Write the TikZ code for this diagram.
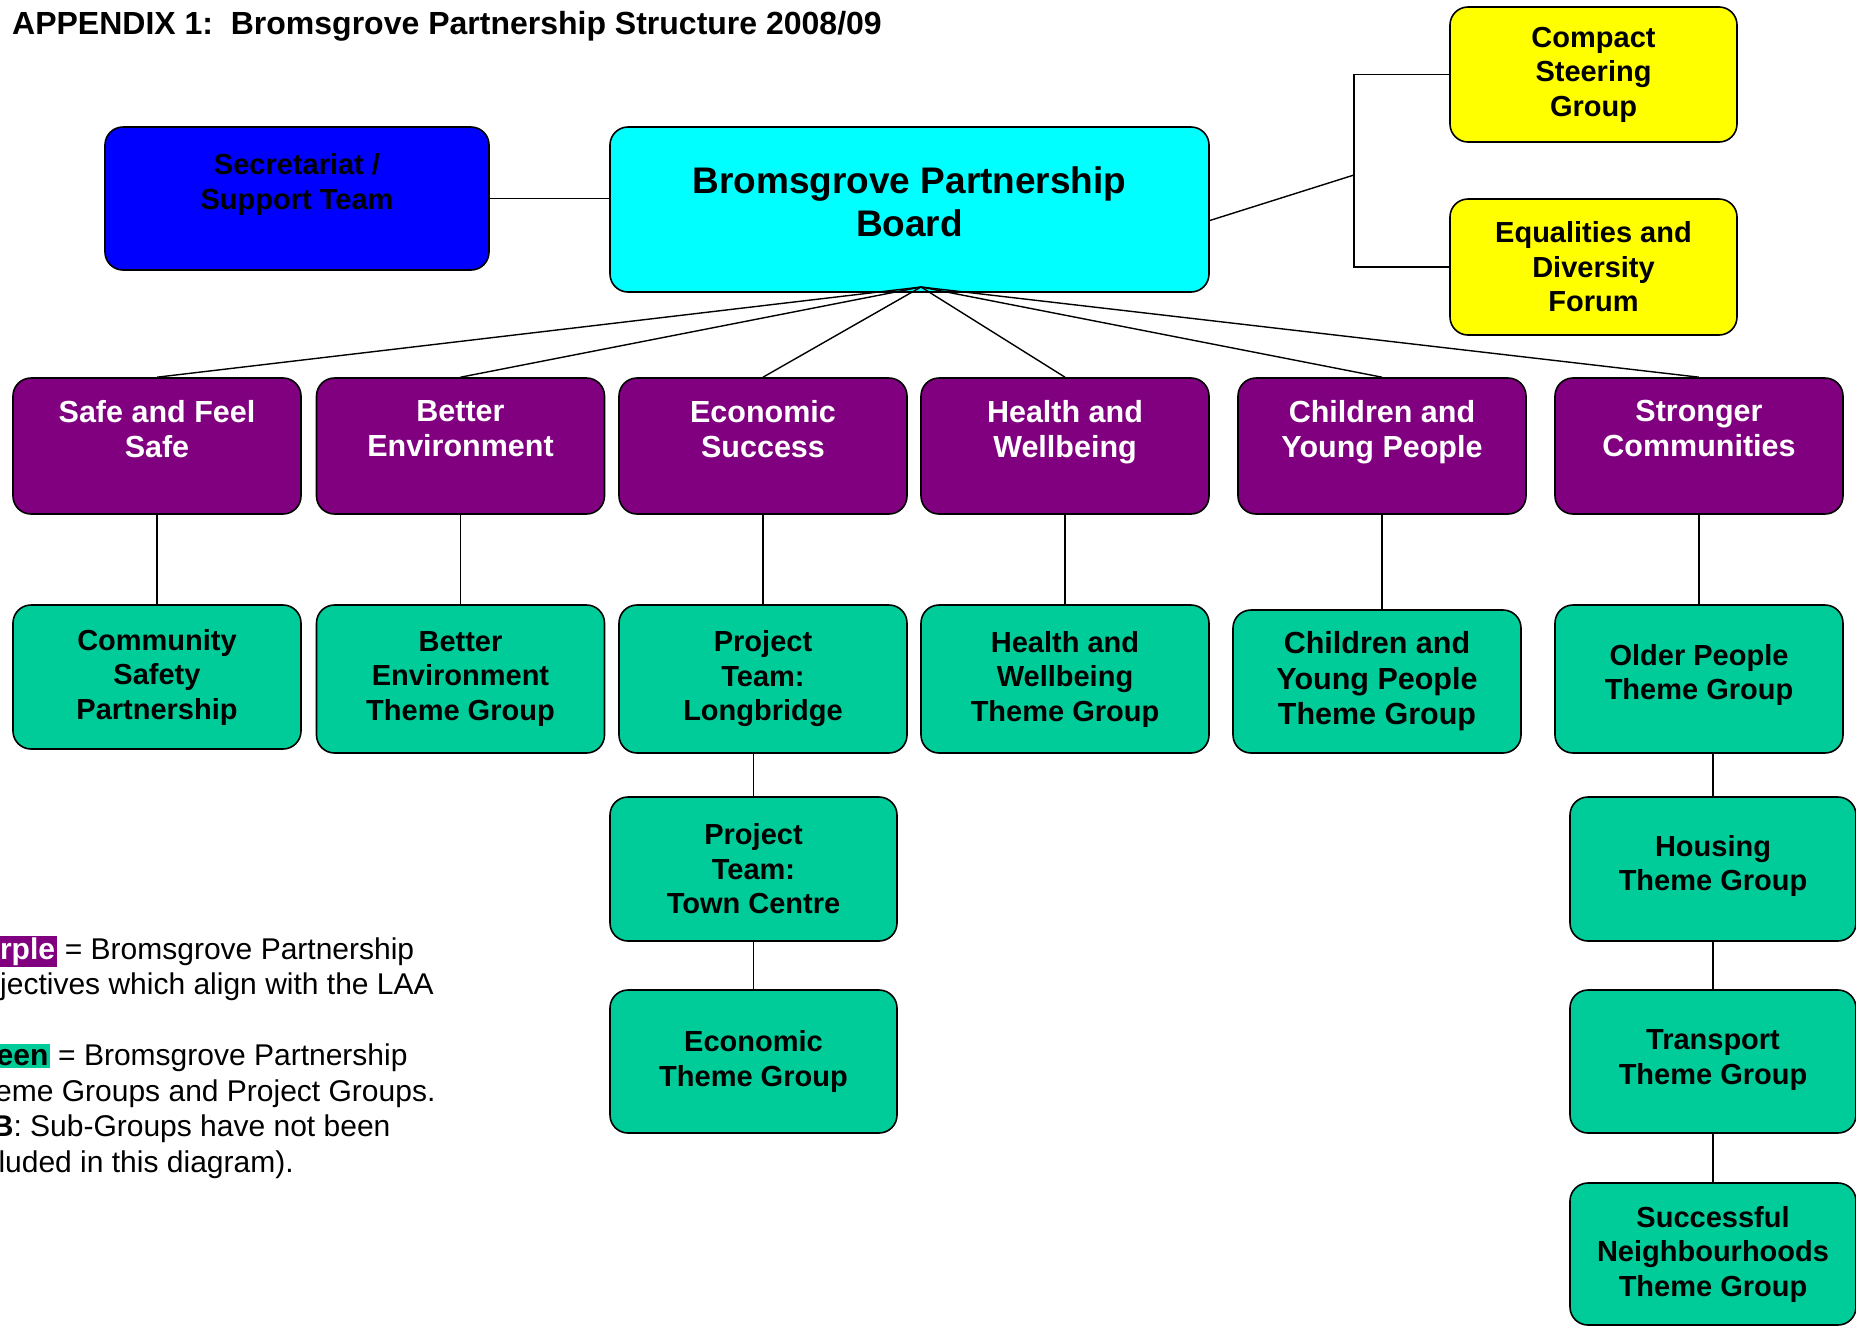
\documentclass[tikz,border=0pt]{standalone}
\usepackage{fontspec}
\setmainfont{Liberation Sans}
\usetikzlibrary{positioning}

\definecolor{objpurple}{RGB}{128,0,128}
\definecolor{themegreen}{RGB}{0,204,153}
\definecolor{boardcyan}{RGB}{0,255,255}
\definecolor{secblue}{RGB}{0,0,255}
\definecolor{forumyellow}{RGB}{255,255,0}

\tikzset{
	orgbox/.style={draw, line width=1.6pt, rounded corners=18pt, align=center, inner sep=0pt,
		font=\bfseries\fontsize{29}{34.5}\selectfont, minimum width=288pt, minimum height=136pt},
	objective/.style={orgbox, fill=objpurple, text=white, font=\bfseries\fontsize{30.5}{35}\selectfont},
	themegroup/.style={orgbox, fill=themegreen},
	forum/.style={orgbox, fill=forumyellow, minimum width=287pt},
	link/.style={line width=1.4pt}
}

\begin{document}
\begin{tikzpicture}[x=1pt, y=-1pt]
\useasboundingbox (0,0) rectangle (1856,1326);

%title
	\node[anchor=west, inner sep=0pt, font=\bfseries\fontsize{32}{38}\selectfont] (title) at (12,26) {APPENDIX 1:\ \ Bromsgrove Partnership Structure 2008/09};

	%board and support
	\node[orgbox, fill=secblue, minimum width=384pt, minimum height=143pt] (sec) at (297,198.5) {Secretariat /\\Support Team\\\mbox{}};
	\node[orgbox, fill=boardcyan, minimum width=599pt, minimum height=165pt, font=\bfseries\fontsize{37}{43}\selectfont] (board) at (909.5,209.5) {Bromsgrove Partnership\\Board\\[-28pt]\mbox{}};
	\node[forum, minimum height=135pt] (compact) at (1593.5,74.5) {Compact\\Steering\\Group};
	\node[forum] (equal) at (1593.5,267) {Equalities and\\Diversity\\Forum};

	%objectives
	\node[objective] (safe) at (157,446) {Safe and Feel\\Safe\\\mbox{}};
	\node[objective] (env) at (460.5,446) {Better\\Environment\\\mbox{}};
	\node[objective] (eco) at (763,446) {Economic\\Success\\\mbox{}};
	\node[objective] (health) at (1065,446) {Health and\\Wellbeing\\\mbox{}};
	\node[objective] (cyp) at (1382,446) {Children and\\Young People\\\mbox{}};
	\node[objective] (comm) at (1699,446) {Stronger\\Communities\\\mbox{}};

	%theme groups
	\node[themegroup, minimum height=144pt] (csp) at (157,677) {Community\\Safety\\Partnership};
	\node[themegroup, minimum height=148pt] (envtg) at (460.5,679) {Better\\Environment\\Theme Group};
	\node[themegroup, minimum height=148pt] (longb) at (763,679) {Project\\Team:\\Longbridge};
	\node[themegroup, minimum height=148pt] (healthtg) at (1065,679) {Health and\\Wellbeing\\Theme Group};
	\node[themegroup, minimum height=143pt, font=\bfseries\fontsize{30.5}{35.5}\selectfont] (cyptg) at (1377,681.5) {Children and\\Young People\\Theme Group};
	\node[themegroup, minimum height=148pt] (older) at (1699,679) {Older People\\Theme Group\\[-20pt]\mbox{}};
	\node[themegroup, minimum width=287pt, minimum height=144pt] (town) at (753.5,869) {Project\\Team:\\Town Centre};
	\node[themegroup, minimum width=287pt, minimum height=143pt] (ecotg) at (753.5,1061.5) {Economic\\Theme Group};
	\node[themegroup, minimum width=286pt, minimum height=144pt] (housing) at (1713,869) {Housing\\Theme Group\\[-22pt]\mbox{}};
	\node[themegroup, minimum width=286pt, minimum height=143pt] (transport) at (1713,1061.5) {Transport\\Theme Group\\[-26pt]\mbox{}};
	\node[themegroup, minimum width=286pt, minimum height=142pt] (success) at (1713,1254) {Successful\\Neighbourhoods\\Theme Group};

	%connectors
	\coordinate (hub) at (921,287);
	\coordinate (junc) at (1354,175);
	\draw[link] (sec.east) -- (sec.east -| board.west);
	\draw[link] ([yshift=-11pt]board.east) -- (junc);
	\draw[link] (compact.west) -| (junc) |- (equal.west);
	\foreach \obj in {safe,env,eco,health,cyp,comm}
		\draw[link] (hub) -- (\obj.north);
	\draw[link] (safe.south) -- (safe.south |- csp.north);
	\draw[link] (env.south) -- (env.south |- envtg.north);
	\draw[link] (eco.south) -- (eco.south |- longb.north);
	\draw[link] (health.south) -- (health.south |- healthtg.north);
	\draw[link] (cyp.south) -- (cyp.south |- cyptg.north);
	\draw[link] (comm.south) -- (comm.south |- older.north);
	\draw[link] (town.north |- longb.south) -- (town.north);
	\draw[link] (town.south) -- (ecotg.north);
	\draw[link] (housing.north |- older.south) -- (housing.north);
	\draw[link] (housing.south) -- (transport.north);
	\draw[link] (transport.south) -- (success.north);

	%key
	\setlength{\fboxsep}{1.5pt}
	\node[anchor=north west, inner sep=0pt, align=left, font=\fontsize{30}{35.5}\selectfont] (key) at (-40,936) {\colorbox{objpurple}{\textcolor{white}{\textbf{Purple}}} = Bromsgrove Partnership\\Objectives which align with the LAA\\[35.5pt]\colorbox{themegreen}{\textbf{Green}} = Bromsgrove Partnership\\Theme Groups and Project Groups.\\(\textbf{NB}: Sub-Groups have not been\\included in this diagram).};
\end{tikzpicture}
\end{document}
